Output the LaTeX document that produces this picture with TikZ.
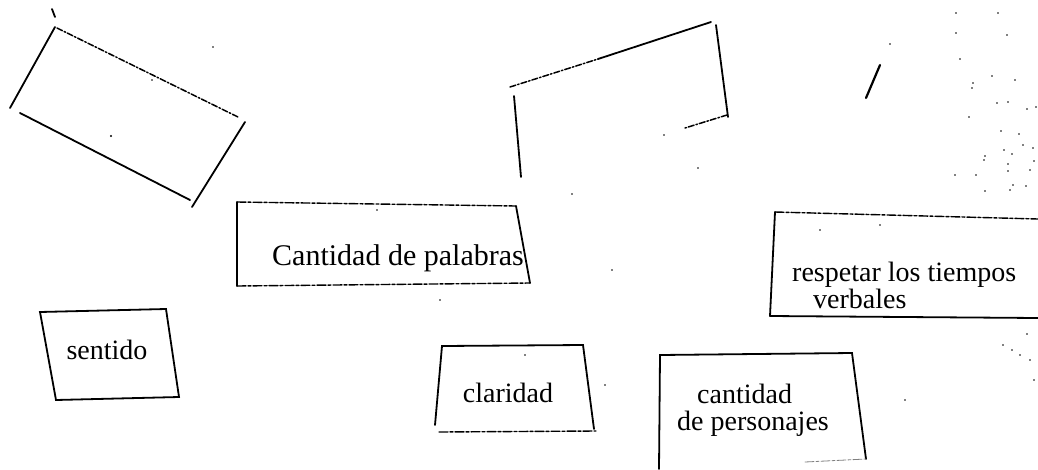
\documentclass[tikz,border=0pt]{standalone}
\usepackage{fontspec}
\setmainfont{Liberation Serif}
\begin{document}
\begin{tikzpicture}[x=1pt,y=-1pt,
  pen/.style={line width=1.8pt,line cap=round,black},
  dashpen/.style={pen,line width=1.5pt,dash pattern=on 6pt off 2pt on 1.5pt off 2pt},
  dotpen/.style={pen,line width=1.4pt,dash pattern=on 9pt off 2pt on 3pt off 2pt},
  lbl/.style={font=\fontsize{28}{25}\selectfont,inner sep=0pt,align=left},
  speck/.style={fill=black,inner sep=0pt,minimum size=2.2pt,circle}]
\useasboundingbox (0,0) rectangle (1038,469);
% box 1 (tilted)
\coordinate (a1) at (55,27); \coordinate (a2) at (10,108);
\coordinate (a3) at (57,28); \coordinate (a4) at (238,117);
\coordinate (a5) at (245,122); \coordinate (a6) at (192,207);
\coordinate (a7) at (20,113); \coordinate (a8) at (190,200);
\coordinate (a9) at (52,9); \coordinate (a10) at (55,17);
\draw[pen] (a9) -- (a10);
\draw[pen] (a1) -- (a2);
\draw[dashpen] (a3) -- (a4);
\draw[pen] (a5) -- (a6);
\draw[pen] (a7) -- (a8);
\node[speck] (s1) at (111,136) {};
% box 2 (top middle)
\coordinate (b1) at (510,87); \coordinate (b2) at (598,59); \coordinate (b3) at (711,22);
\coordinate (b4) at (716,25); \coordinate (b5) at (728,117);
\coordinate (b6) at (727,115); \coordinate (b7) at (685,128);
\coordinate (b8) at (514,96); \coordinate (b9) at (521,177);
\draw[dashpen] (b1) -- (b2);
\draw[pen] (b2) -- (b3);
\draw[pen] (b4) -- (b5);
\draw[dashpen] (b6) -- (b7);
\draw[pen] (b8) -- (b9);
% slash top right
\coordinate (c1) at (880,65); \coordinate (c2) at (866,98);
\draw[pen,line width=2.2pt] (c1) -- (c2);
% Cantidad de palabras
\coordinate (d1) at (237,202); \coordinate (d2) at (516,206);
\coordinate (d3) at (530,283); \coordinate (d4) at (237,286);
\draw[dotpen] (d1) -- (d2);
\draw[pen] (d1) -- (d4);
\draw[pen] (d2) -- (d3);
\draw[dotpen] (d4) -- (d3);
\node[lbl,font=\fontsize{30}{32}\selectfont] (t1) at (398,258) {Cantidad de palabras};
% respetar los tiempos
\coordinate (e1) at (775,212); \coordinate (e2) at (1038,219);
\coordinate (e3) at (770,316); \coordinate (e4) at (1038,318);
\draw[dotpen] (e1) -- (e2);
\draw[pen] (e1) -- (e3);
\draw[pen] (e3) -- (e4);
\node[lbl,anchor=base west] (t2) at (792,308) {respetar los tiempos\\\kern21pt verbales};
% sentido
\coordinate (f1) at (40,312); \coordinate (f2) at (166,309);
\coordinate (f3) at (179,397); \coordinate (f4) at (56,400);
\draw[pen] (f1) -- (f2) -- (f3) -- (f4) -- cycle;
\node[lbl] (t4) at (107,350) {sentido};
% claridad
\coordinate (g1) at (442,346); \coordinate (g2) at (583,345);
\coordinate (g3) at (594,429); \coordinate (g4) at (435,425);
\coordinate (g5) at (439,432); \coordinate (g6) at (596,431);
\draw[pen] (g4) -- (g1) -- (g2) -- (g3);
\draw[dotpen] (g5) -- (g6);
\node[lbl] (t5) at (508,393) {claridad};
% cantidad de personajes
\coordinate (h1) at (660,355); \coordinate (h2) at (852,353);
\coordinate (h3) at (866,459); \coordinate (h4) at (659,469);
\coordinate (h5) at (805,462);
\draw[pen] (h4) -- (h1) -- (h2) -- (h3);
\draw[dotpen,line width=0.8pt,gray] (h5) -- (h3);
\node[lbl,anchor=base west] (t6) at (677,430) {\kern20pt cantidad\\[2pt]de personajes};
% specks
\foreach \p [count=\i] in {(213,47),(664,135),(698,168),(572,194),(890,44),(956,13),(998,13),(956,33),(1007,35),(960,59),(992,76),(1015,80),(973,83),(972,88),(997,103),(1008,102),(1027,109),(1036,107),(969,117),(1001,131),(1019,134),(1023,145),(1033,148),(1004,150),(1012,154),(985,156),(984,160),(1008,164),(1034,161),(1008,171),(1030,170),(955,175),(976,175),(985,191),(1013,185),(1026,186),(1010,190),(1027,334),(1012,350),(1020,355),(1030,360),(1003,345),(1034,380),(905,400),(820,230),(880,225),(440,300),(612,270),(377,210),(152,80),(525,355),(605,385)}
  \node[speck,minimum size=1.8pt] (n\i) at \p {};
\end{tikzpicture}
\end{document}
